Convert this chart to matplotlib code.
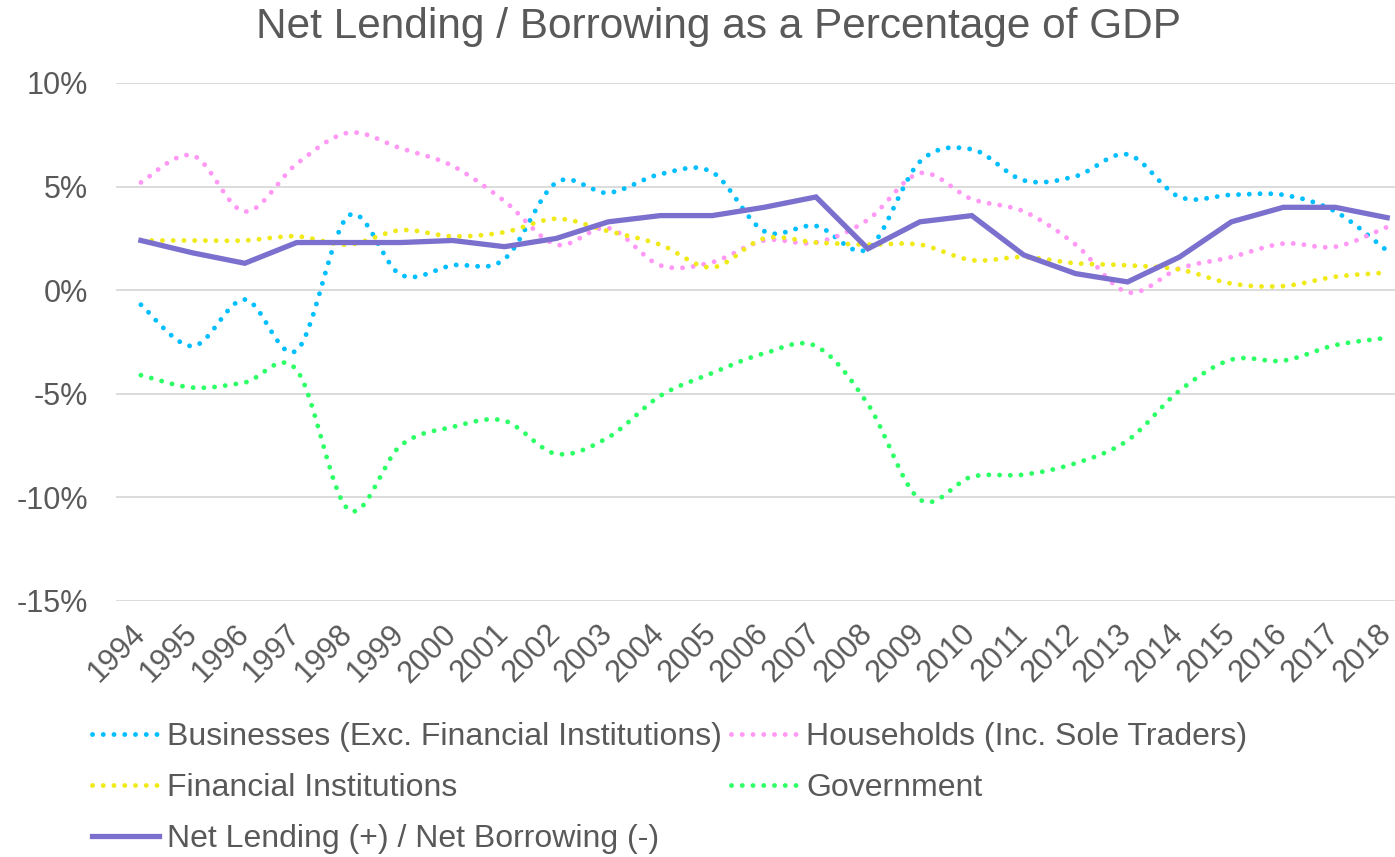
import numpy as np
import matplotlib
matplotlib.use("Agg")
import matplotlib.pyplot as plt
import matplotlib.transforms as mtransforms
from matplotlib.path import Path
from matplotlib.patches import PathPatch
from matplotlib.lines import Line2D

years = [str(y) for y in range(1994, 2019)]
businesses = [-0.7, -2.7, -0.45, -2.9, 3.6, 0.75, 1.2, 1.5, 5.2, 4.7, 5.6, 5.7, 2.85, 3.1, 2.0,
              6.2, 6.8, 5.3, 5.5, 6.55, 4.5, 4.6, 4.6, 3.8, 1.9]
households = [5.2, 6.5, 3.8, 6.1, 7.6, 6.85, 6.0, 4.3, 2.2, 3.0, 1.2, 1.35, 2.4, 2.3, 3.4,
              5.65, 4.4, 3.8, 2.2, -0.1, 1.05, 1.6, 2.25, 2.1, 3.05]
financial = [2.4, 2.4, 2.4, 2.6, 2.2, 2.9, 2.6, 2.8, 3.45, 2.85, 2.2, 1.1, 2.5, 2.3, 2.2,
             2.2, 1.45, 1.6, 1.3, 1.2, 1.0, 0.32, 0.2, 0.65, 0.85]
government = [-4.1, -4.7, -4.45, -3.85, -10.6, -7.5, -6.6, -6.3, -7.9, -7.1, -5.1, -4.0, -3.05,
              -2.7, -5.5, -10.1, -9.0, -8.9, -8.35, -7.25, -4.85, -3.35, -3.4, -2.65, -2.3]
net_lending = [2.4, 1.8, 1.3, 2.3, 2.3, 2.3, 2.4, 2.1, 2.5, 3.3, 3.6, 3.6, 4.0, 4.5, 2.0,
               3.3, 3.6, 1.7, 0.8, 0.4, 1.6, 3.3, 4.0, 4.0, 3.5]

labels = ["Businesses (Exc. Financial Institutions)", "Households (Inc. Sole Traders)",
          "Financial Institutions", "Government", "Net Lending (+) / Net Borrowing (-)"]
yticks = [10, 5, 0, -5, -10, -15]

c_bus = "#00BFFF"
c_hh = "#FF99F5"
c_fin = "#F0EA1A"
c_gov = "#2EFF66"
c_net = "#7B70CD"
txt = "#595959"

plt.rcParams['font.family'] = ['Liberation Sans', 'DejaVu Sans']

fig = plt.figure(figsize=(13.95, 8.57), dpi=100)
ax = fig.add_axes([116/1395, 1-601/857, (1395-116)/1395, (601-83)/857])

x = np.arange(len(years))

def smooth_path(xs, ys):
    pts = np.column_stack([xs, ys]).astype(float)
    n = len(pts)
    verts = [pts[0]]
    codes = [Path.MOVETO]
    for i in range(n - 1):
        p0 = pts[i - 1] if i > 0 else pts[i]
        p1 = pts[i]
        p2 = pts[i + 1]
        p3 = pts[i + 2] if i + 2 < n else pts[i + 1]
        c1 = p1 + (p2 - p0) / 6.0
        c2 = p2 - (p3 - p1) / 6.0
        verts += [c1, c2, p2]
        codes += [Path.CURVE4] * 3
    return Path(verts, codes)

dot_ls = (0, (0.01, 2.2))
lw_dot = 3.5
for vals, col in [(businesses, c_bus), (households, c_hh), (financial, c_fin), (government, c_gov)]:
    patch = PathPatch(smooth_path(x, vals), fill=False, edgecolor=col, lw=lw_dot,
                      linestyle=dot_ls, capstyle='round', zorder=3)
    ax.add_patch(patch)

ax.plot(x, net_lending, color=c_net, lw=3.8, solid_joinstyle='miter', zorder=4)

ax.set_xlim(-0.48, len(years) - 1 + 0.15)
ax.set_ylim(-15, 10)
ax.set_yticks(yticks)
ax.set_yticklabels([f"{v}%" for v in yticks])
ax.set_xticks(x)
ax.set_xticklabels(years, rotation=45, ha='right', rotation_mode='anchor')
ax.grid(axis='y', color='#D9D9D9', lw=1.3)
ax.set_axisbelow(True)
for s in ax.spines.values():
    s.set_visible(False)
ax.tick_params(axis='both', length=0, labelsize=22, colors=txt)
ax.tick_params(axis='y', pad=20)
ax.tick_params(axis='x', pad=13)
shift = mtransforms.ScaledTranslation(-11/100, 0, fig.dpi_scale_trans)
for lab in ax.get_xticklabels():
    lab.set_transform(lab.get_transform() + shift)

fig.text(718/1395, 1-27/857, "Net Lending / Borrowing as a Percentage of GDP",
         ha='center', va='center', fontsize=30.5, color=txt)

handles = [
    Line2D([], [], color=c_bus, lw=lw_dot, linestyle=dot_ls, dash_capstyle='round'),
    Line2D([], [], color=c_fin, lw=lw_dot, linestyle=dot_ls, dash_capstyle='round'),
    Line2D([], [], color=c_net, lw=3.8),
    Line2D([], [], color=c_hh, lw=lw_dot, linestyle=dot_ls, dash_capstyle='round'),
    Line2D([], [], color=c_gov, lw=lw_dot, linestyle=dot_ls, dash_capstyle='round'),
]
hl = [labels[0], labels[2], labels[4], labels[1], labels[3]]
leg = fig.legend(handles, hl, ncol=2, loc='upper left', bbox_to_anchor=(92/1395, 1-722/857),
                 frameon=False, fontsize=23, handlelength=2.1, handletextpad=0.25,
                 columnspacing=0.28, labelspacing=0.66, borderaxespad=0, borderpad=0)
for t in leg.get_texts():
    t.set_color(txt)

fig.savefig("out.png", dpi=100)
